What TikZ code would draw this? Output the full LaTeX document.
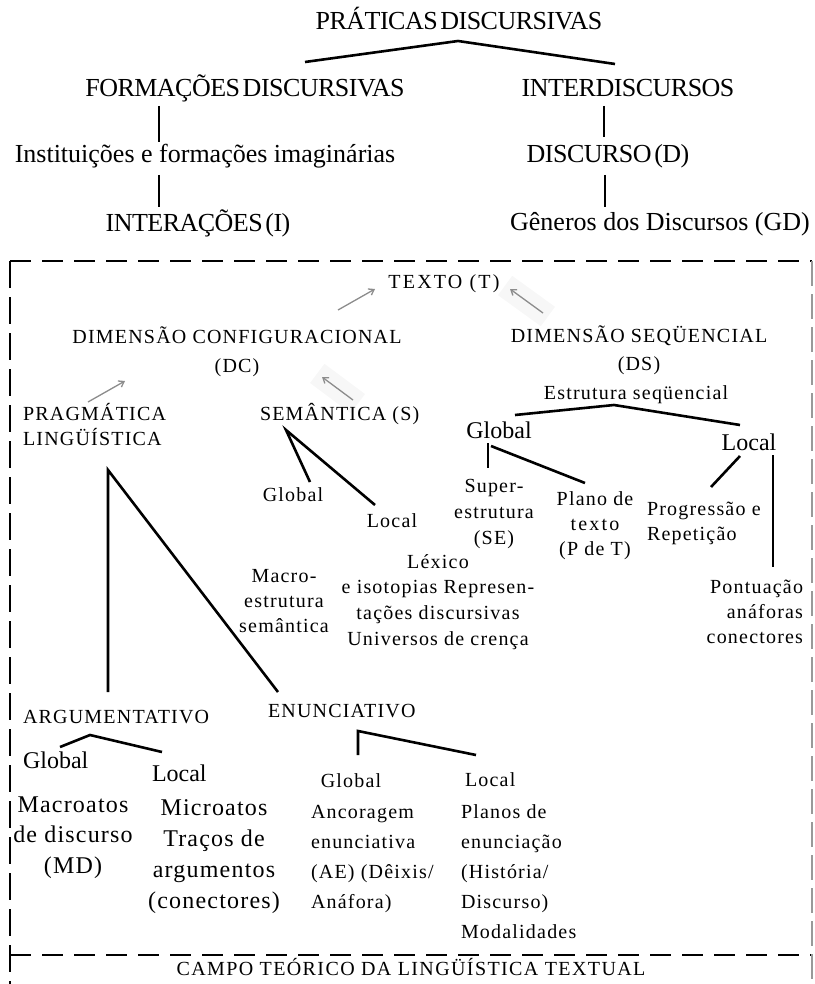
\documentclass[tikz,border=0pt]{standalone}
\usepackage{fontspec}
\setmainfont{Liberation Serif}
\newfontfamily\capsfont[LetterSpace=-2.0,WordSpace=0.45]{Liberation Serif}
\newfontfamily\boxfont[LetterSpace=6]{Liberation Serif}
\newfontfamily\widefont[LetterSpace=11]{Liberation Serif}
\newfontfamily\midfont[LetterSpace=5]{Liberation Serif}
\newfontfamily\campofont[LetterSpace=7]{Liberation Serif}
\usetikzlibrary{arrows.meta}
\newcommand\ml[3]{{\fontsize{\csname f@size\endcsname}{#2}\selectfont\begin{tabular}[t]{@{}#1@{}}#3\end{tabular}}}
\tikzset{
  lbl/.style={inner sep=0pt, outer sep=0pt, anchor=base},
  topcap/.style={lbl, font=\capsfont\fontsize{26}{30}\selectfont},
  toptxt/.style={lbl, font=\fontsize{26}{30}\selectfont},
  bx/.style={lbl, font=\boxfont\fontsize{20}{25}\selectfont},
  bxw/.style={lbl, font=\widefont\fontsize{20}{25}\selectfont},
  bxc/.style={lbl, font=\campofont\fontsize{20}{25}\selectfont},
  big/.style={lbl, font=\fontsize{24}{30}\selectfont},
  bigsp/.style={lbl, font=\midfont\fontsize{24}{30}\selectfont},
  conn/.style={line width=2.6pt},
  garrow/.style={black!45, line width=1.3pt, -{Straight Barb[length=5pt,width=7pt]}},
  shadebox/.style={fill=black!3},
  hdash/.style={line width=2.6pt, dash pattern=on 21pt off 11pt},
  vdash/.style={line width=2.6pt, dash pattern=on 27pt off 9pt},
  rdash/.style={black!40, line width=1.1pt, dash pattern=on 25pt off 8pt}
}
\begin{document}
\begin{tikzpicture}[x=1pt,y=-1pt]
\useasboundingbox (0,0) rectangle (814,984);

% ---------- top part ----------
\node[topcap] (pd) at (459,30) {PRÁTICAS DISCURSIVAS};
\node[topcap] (fd) at (245,97) {FORMAÇÕES DISCURSIVAS};
\node[topcap] (idc) at (628,97) {INTERDISCURSOS};
\node[toptxt] (inst) at (205,163) {Instituições e formações imaginárias};
\node[topcap] (inter) at (198,232) {INTERAÇÕES (I)};
\node[topcap] (disc) at (608,163) {DISCURSO (D)};
\node[toptxt] (gen) at (660,230) {Gêneros dos Discursos (GD)};

\coordinate (pdA) at (458,41);
\coordinate (fdT) at (305,62);
\coordinate (idT) at (615,64);
\draw[conn] (fdT) -- (pdA) -- (idT);
\coordinate (fdB) at (159,106); \coordinate (instT) at (159,142);
\coordinate (instB) at (159,175); \coordinate (interT) at (159,207);
\draw[conn] (fdB) -- (instT);
\draw[conn] (instB) -- (interT);
\coordinate (idB) at (604,106); \coordinate (discT) at (604,137);
\coordinate (discB) at (605,175); \coordinate (genT) at (605,207);
\draw[conn] (idB) -- (discT);
\draw[conn] (discB) -- (genT);

% ---------- dashed frame ----------
\coordinate (fTL) at (10,261); \coordinate (fTR) at (812,261);
\coordinate (fBL) at (10,984); \coordinate (fBR) at (812,984);
\coordinate (fML) at (10,955); \coordinate (fMR) at (812,955);
\draw[hdash] (fTL) -- (fTR);
\draw[vdash] (fTL) -- (fBL);
\draw[hdash] (fML) -- (fMR);
\draw[rdash] (fTR) -- (fBR);

% ---------- faint shadows ----------
\fill[shadebox] (555,306.8) -- (540.8,326.2) -- (498,295.2) -- (512.2,275.8) -- cycle;
\fill[shadebox] (365,394) -- (350.6,413.2) -- (310,383) -- (324.4,363.8) -- cycle;

% ---------- box content ----------
\node[bxw] (texto) at (444,288) {TEXTO (T)};
\node[bx] (dc) at (237,343) {\ml{c}{29}{DIMENSÃO CONFIGURACIONAL\\(DC)}};
\node[bx] (ds) at (639,342) {\ml{c}{28}{DIMENSÃO SEQÜENCIAL\\(DS)}};
\node[bx] (estr) at (636,399) {Estrutura seqüencial};
\node[bx, anchor=base west] (prag) at (23,420) {\ml{l}{25}{PRAGMÁTICA\\LINGÜÍSTICA}};
\node[bx, anchor=base west] (sem) at (260,420) {SEMÂNTICA (S)};
\node[bx] (semg) at (293,501) {Global};
\node[bx] (seml) at (392,527) {Local};
\node[big] (dsg) at (499,438) {Global};
\node[big] (dsl) at (749,450) {Local};
\node[bx] (sup) at (494,492) {\ml{c}{26}{Super-\\estrutura\\(SE)}};
\node[bx] (plano) at (595,505) {\ml{c}{25}{Plano de\\{\widefont texto}\\(P de T)}};
\node[bx, anchor=base west] (prog) at (647,515) {\ml{l}{25}{Progressão e\\Repetição}};
\node[bx, anchor=base east] (pont) at (803,593) {\ml{r}{25}{Pontuação\\anáforas\\conectores}};
\node[bx] (lex) at (438,568) {\ml{c}{25.7}{Léxico\\e isotopias Represen-\\tações discursivas\\Universos de crença}};
\node[bx] (macro) at (284,582) {\ml{c}{25}{Macro-\\estrutura\\semântica}};
\node[bx, anchor=base west] (arg) at (23,723) {ARGUMENTATIVO};
\node[bx, anchor=base west] (enun) at (268,717) {ENUNCIATIVO};
\node[big, anchor=base west] (argg) at (23,768) {Global};
\node[big, anchor=base west] (argl) at (152,781) {Local};
\node[bigsp] (md) at (73,812) {\ml{c}{30.5}{Macroatos\\de discurso\\(MD)}};
\node[bigsp] (micro) at (214,815) {\ml{c}{31}{Microatos\\Traços de\\argumentos\\(conectores)}};
\node[bx] (eng) at (351,787) {Global};
\node[bx, anchor=base west] (anc) at (311,818) {\ml{l}{30}{Ancoragem\\enunciativa\\(AE) (Dêixis/\\Anáfora)}};
\node[bx, anchor=base west] (enl) at (465,786) {Local};
\node[bx, anchor=base west] (plan) at (461,818) {\ml{l}{30}{Planos de\\enunciação\\(História/\\Discurso)\\Modalidades}};
\node[bxc] (campo) at (411,975) {CAMPO TEÓRICO DA LINGÜÍSTICA TEXTUAL};

% ---------- gray arrows ----------
\coordinate (dcA) at (338,310); \coordinate (txA) at (375,289);
\coordinate (dsA) at (543,313); \coordinate (txB) at (510,289);
\coordinate (prA) at (88,402);  \coordinate (dcB) at (125,381);
\coordinate (smA) at (353,400); \coordinate (dcC) at (322,377);
\draw[garrow] (dcA) -- (txA);
\draw[garrow] (dsA) -- (txB);
\draw[garrow] (prA) -- (dcB);
\draw[garrow] (smA) -- (dcC);

% ---------- connectors in box ----------
\coordinate (semA) at (286,430); \coordinate (semgT) at (310,482); \coordinate (semlT) at (375,505);
\draw[conn] (semgT) -- (semA) -- (semlT);
\coordinate (estA) at (614,405); \coordinate (dsgT) at (515,415); \coordinate (dslT) at (740,425);
\draw[conn] (dsgT) -- (estA) -- (dslT);
\coordinate (dsgB1) at (488,443); \coordinate (supT) at (488,468);
\coordinate (dsgB2) at (491,446); \coordinate (planoT) at (585,483);
\draw[conn] (dsgB1) -- (supT);
\draw[conn] (dsgB2) -- (planoT);
\coordinate (dslB1) at (740,456); \coordinate (progT) at (711,487);
\coordinate (dslB2) at (773,455); \coordinate (pontT) at (773,567);
\draw[conn] (dslB1) -- (progT);
\draw[conn] (dslB2) -- (pontT);
\coordinate (prA2) at (108,470); \coordinate (argT) at (108,692); \coordinate (enunT) at (278,692);
\draw[conn] (argT) -- (prA2) -- (enunT);
\coordinate (argA) at (90,735); \coordinate (arggT) at (60,747); \coordinate (arglT) at (162,752);
\draw[conn] (arggT) -- (argA) -- (arglT);
\coordinate (enA) at (358,731); \coordinate (engT) at (358,755); \coordinate (enlT) at (476,755);
\draw[conn] (engT) -- (enA) -- (enlT);
\end{tikzpicture}
\end{document}
